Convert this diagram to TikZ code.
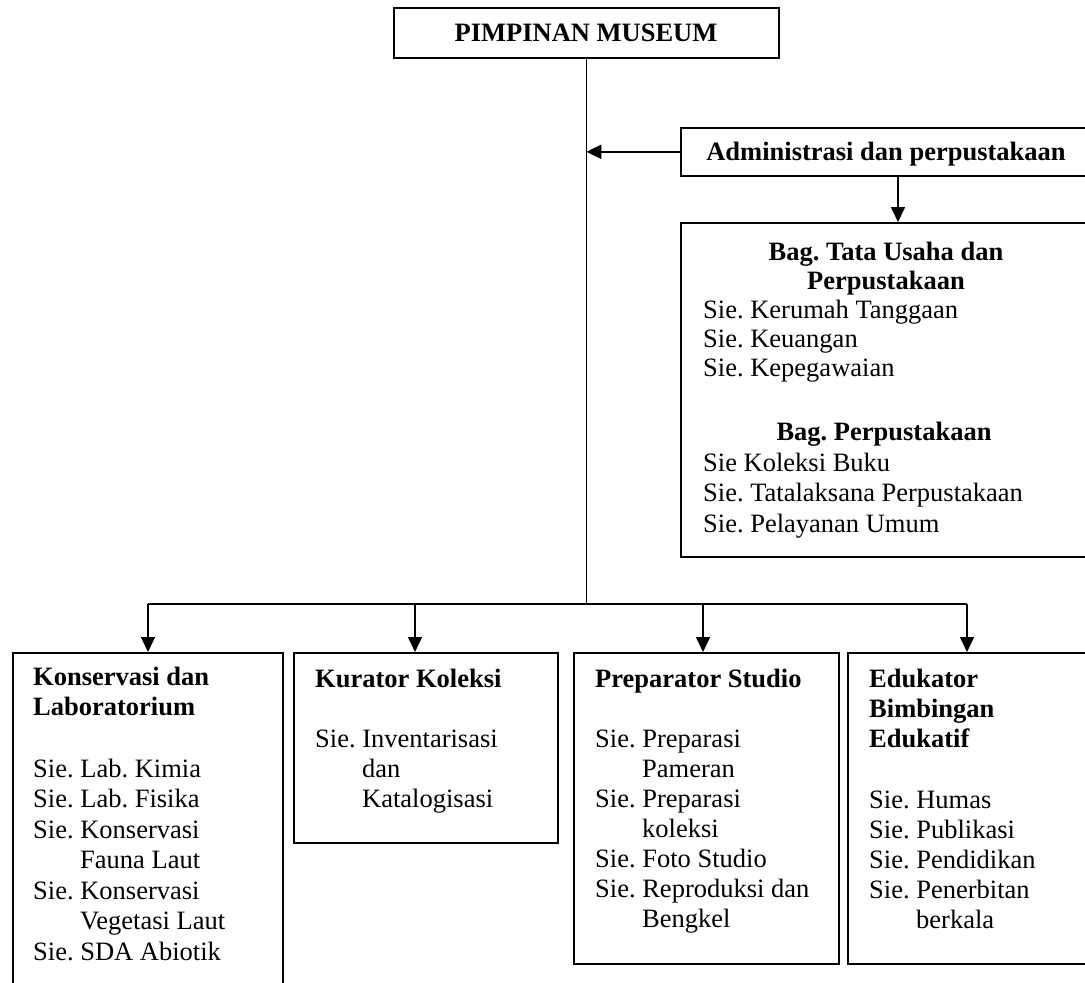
\documentclass[tikz,border=0pt]{standalone}
\usepackage{fontspec}
\setmainfont{Liberation Serif}
\usetikzlibrary{arrows.meta}
\newcommand\dgf[1]{\fontsize{26.5}{#1}\selectfont\frenchspacing}
\newcommand\ind{\hspace*{47pt}}
\tikzset{
  box/.style={draw, line width=1.6pt, inner sep=0pt, anchor=north west},
  txt/.style={inner sep=0pt, anchor=base west, font=\dgf{30}},
  ln/.style={line width=1.6pt},
  arr/.style={line width=1.6pt, -{Triangle[length=15pt,width=14pt]}}
}
\begin{document}
\begin{tikzpicture}[x=1pt,y=-1pt]
\useasboundingbox (0,0) rectangle (1085,983);
\fill[white] (0,0) rectangle (1085,983);
\clip (0,0) rectangle (1085,983);

% top
\node[box, minimum width=385pt, minimum height=50pt] (top) at (393,7) {};
\node[txt, anchor=base] (toptxt) at (586,41) {\bfseries PIMPINAN MUSEUM};

% administration
\node[box, minimum width=415pt, minimum height=48pt] (admin) at (680,127) {};
\node[txt, anchor=base] (admintxt) at (886,160) {\bfseries Administrasi dan perpustakaan};

\node[box, minimum width=415pt, minimum height=334pt] (tu) at (680,222) {};
\node[txt, anchor=base, font=\dgf{29}] (tuh) at (886,260)
  {\begin{tabular}[t]{@{}c@{}}\bfseries Bag. Tata Usaha dan\\ \bfseries Perpustakaan\end{tabular}};
\node[txt, font=\dgf{29}] (tul) at (703,318)
  {\begin{tabular}[t]{@{}l@{}}Sie. Kerumah Tanggaan\\ Sie. Keuangan\\ Sie. Kepegawaian\end{tabular}};
\node[txt, anchor=base] (pph) at (884,440) {\bfseries Bag. Perpustakaan};
\node[txt, font=\dgf{30.5}] (ppl) at (703,471)
  {\begin{tabular}[t]{@{}l@{}}Sie Koleksi Buku\\ Sie. Tatalaksana Perpustakaan\\ Sie. Pelayanan Umum\end{tabular}};

% bottom boxes
\node[box, minimum width=270pt, minimum height=400pt] (b1) at (12,652) {};
\node[box, minimum width=264pt, minimum height=190pt] (b2) at (293,652) {};
\node[box, minimum width=265pt, minimum height=311pt] (b3) at (573,652) {};
\node[box, minimum width=260pt, minimum height=311pt] (b4) at (847,652) {};

\node[txt] (b1h) at (33,685)
  {\begin{tabular}[t]{@{}l@{}}\bfseries Konservasi dan\\ \bfseries Laboratorium\end{tabular}};
\node[txt, font=\dgf{30.5}] (b1l) at (33,777)
  {\begin{tabular}[t]{@{}l@{}}Sie. Lab. Kimia\\ Sie. Lab. Fisika\\ Sie. Konservasi\\ \ind Fauna Laut\\ Sie. Konservasi\\ \ind Vegetasi Laut\\ Sie. SDA Abiotik\end{tabular}};

\node[txt] (b2h) at (315,687) {\bfseries Kurator Koleksi};
\node[txt] (b2l) at (315,747)
  {\begin{tabular}[t]{@{}l@{}}Sie. Inventarisasi\\ \ind dan\\ \ind Katalogisasi\end{tabular}};

\node[txt] (b3h) at (595,687) {\bfseries Preparator Studio};
\node[txt] (b3l) at (595,747)
  {\begin{tabular}[t]{@{}l@{}}Sie. Preparasi\\ \ind Pameran\\ Sie. Preparasi\\ \ind koleksi\\ Sie. Foto Studio\\ Sie. Reproduksi dan\\ \ind Bengkel\end{tabular}};

\node[txt] (b4h) at (869,687)
  {\begin{tabular}[t]{@{}l@{}}\bfseries Edukator\\ \bfseries Bimbingan\\ \bfseries Edukatif\end{tabular}};
\node[txt] (b4l) at (869,808)
  {\begin{tabular}[t]{@{}l@{}}Sie. Humas\\ Sie. Publikasi\\ Sie. Pendidikan\\ Sie. Penerbitan\\ \ind berkala\end{tabular}};

% connectors
\coordinate (j1) at (148,604);
\coordinate (j2) at (415,604);
\coordinate (j3) at (703,604);
\coordinate (j4) at (967,604);
\coordinate (ad) at (898,0);

\draw[ln] (top.south) -- (top.south |- j1);
\draw[ln] (j1) -- (j4);
\draw[arr] (admin.west) -- (admin.west -| top.south);
\draw[arr] (admin.south -| ad) -- (tu.north -| ad);
\draw[arr] (j1) -- (j1 |- b1.north);
\draw[arr] (j2) -- (j2 |- b2.north);
\draw[arr] (j3) -- (j3 |- b3.north);
\draw[arr] (j4) -- (j4 |- b4.north);
\end{tikzpicture}
\end{document}
